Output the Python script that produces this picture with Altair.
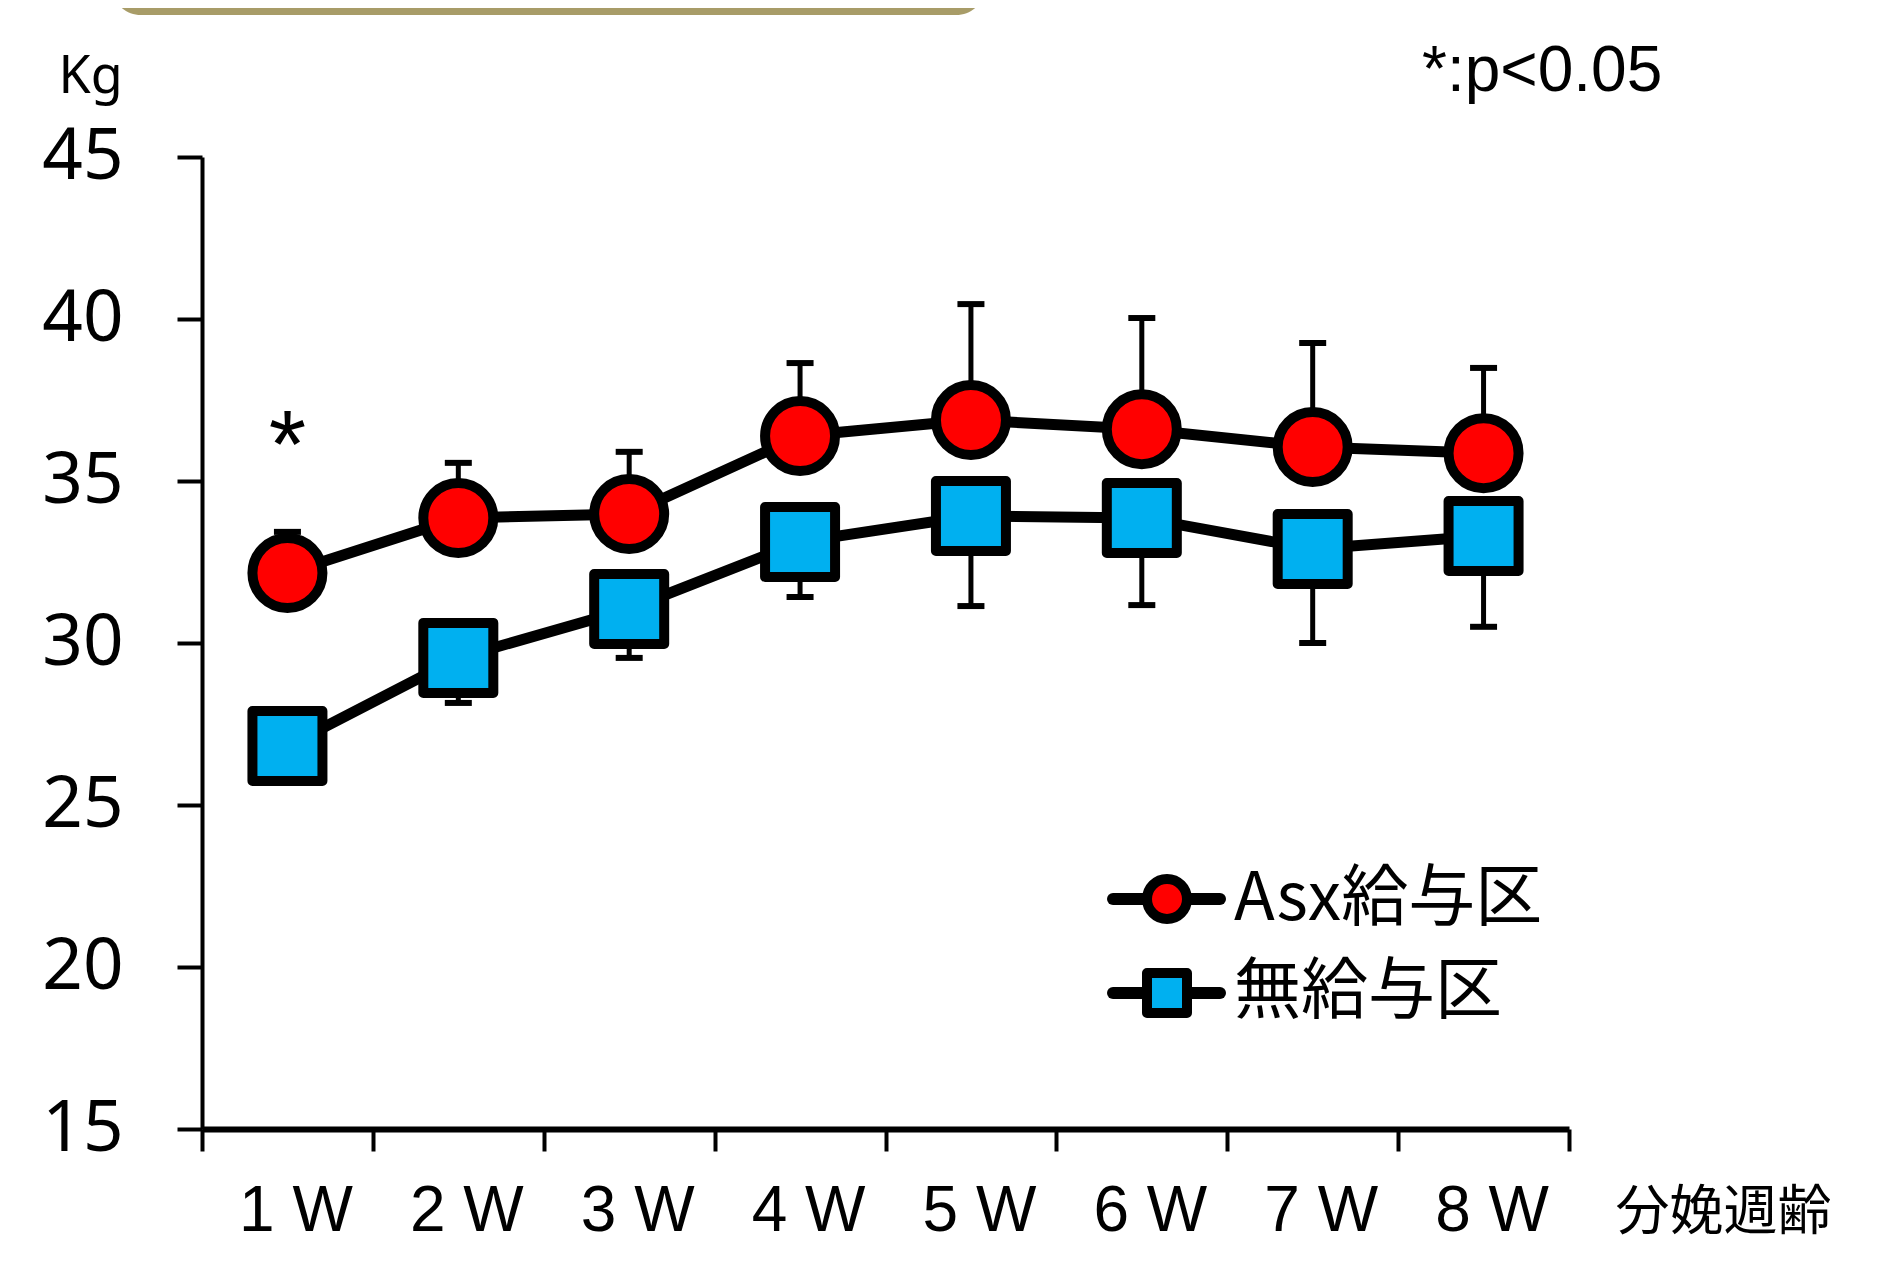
import altair as alt
import pandas as pd

weeks = ["1 W", "2 W", "3 W", "4 W", "5 W", "6 W", "7 W", "8 W"]
asx_mean = [32.16, 33.86, 33.98, 36.39, 36.88, 36.60, 36.05, 35.86]
asx_upper = [33.43, 35.56, 35.90, 38.64, 40.46, 40.03, 39.26, 38.49]
non_mean = [26.82, 29.54, 31.05, 33.12, 33.92, 33.86, 32.90, 33.30]
non_lower = [26.00, 28.15, 29.54, 31.42, 31.14, 31.17, 30.00, 30.50]
series_names = ["Asx給与区", "無給与区"]
fill_colors = ["#FF0000", "#00B0F0"]
shapes = ["circle", "square"]
sig_weeks = ["1 W"]
sig_marks = ["*"]
sig_y = [36.55]
note_text = ["*:p<0.05"]
y_ticks = [15, 20, 25, 30, 35, 40, 45]

W, H = 1367, 972

rows = []
for i, w in enumerate(weeks):
    rows.append({"week": w, "series": series_names[0], "mean": asx_mean[i], "bar": asx_upper[i]})
    rows.append({"week": w, "series": series_names[1], "mean": non_mean[i], "bar": non_lower[i]})
df = pd.DataFrame(rows)
sig_df = pd.DataFrame({"week": sig_weeks, "mark": sig_marks, "y": sig_y})
note_df = pd.DataFrame({"label": note_text})
legend_df = pd.DataFrame({"series": series_names, "fill": fill_colors, "shape": shapes})
one_df = pd.DataFrame({"k": [1]})

x_axis = alt.Axis(
    title="分娩週齢", labelAngle=0, tickBand="extent", grid=False,
    domainWidth=6, tickWidth=4, tickSize=22, domainColor="black", tickColor="black",
    labelFont="Liberation Sans", labelFontSize=64, labelColor="black", labelPadding=28,
    labelOffset=8,
    titleFont="Noto Sans CJK JP", titleFontSize=54, titleFontWeight="normal", titleColor="black",
    titleX=1413, titleY=100, titleAlign="left", titleBaseline="alphabetic", titleAngle=0,
)
y_axis = alt.Axis(
    title="Kg", values=y_ticks, grid=False,
    domainWidth=4, tickWidth=4, tickSize=25, domainColor="black", tickColor="black",
    labelFont="Noto Sans", labelFontSize=71, labelColor="black", labelPadding=54,
    titleFont="Noto Sans", titleFontSize=52, titleFontWeight="normal", titleColor="black",
    titleAngle=0, titleX=-144, titleY=-65, titleAlign="left", titleBaseline="alphabetic",
)
x_scale = alt.Scale(type="band", paddingInner=0, paddingOuter=0)
y_scale = alt.Scale(domain=[15, 45], nice=False, zero=False)


def X():
    return alt.X("week:N", sort=weeks, scale=x_scale, axis=x_axis, bandPosition=0.5)


base = alt.Chart(df)

bars = base.mark_rule(color="black", strokeWidth=5).encode(
    x=X(), y=alt.Y("mean:Q", scale=y_scale, axis=y_axis), y2="bar:Q"
)
caps = base.mark_tick(color="black", size=27, thickness=6, orient="horizontal", opacity=1).encode(
    x=X(), y=alt.Y("bar:Q", scale=y_scale, axis=y_axis)
)
lines = base.mark_line(color="black", strokeWidth=11).encode(
    x=X(), y=alt.Y("mean:Q", scale=y_scale, axis=y_axis), detail="series:N"
)
points = base.mark_point(filled=True, opacity=1, stroke="black", strokeWidth=10, size=4900, strokeJoin="round").encode(
    x=X(), y=alt.Y("mean:Q", scale=y_scale, axis=y_axis),
    fill=alt.Fill("series:N", scale=alt.Scale(domain=series_names, range=fill_colors), legend=None),
    shape=alt.Shape("series:N", scale=alt.Scale(domain=series_names, range=shapes), legend=None),
)
sig = alt.Chart(sig_df).mark_text(font="Liberation Sans", fontSize=96, color="black", baseline="middle", dy=17).encode(
    x=X(), y=alt.Y("y:Q", scale=y_scale, axis=y_axis), text="mark:N"
)
note = alt.Chart(note_df).mark_text(font="Liberation Sans", fontSize=64, color="black", align="left", baseline="alphabetic").encode(
    x=alt.value(1220), y=alt.value(-66), text="label:N"
)
banner = alt.Chart(one_df).mark_rect(color="#A89C68", cornerRadius=30).encode(
    x=alt.value(-91), x2=alt.value(784), y=alt.value(-230), y2=alt.value(-142)
)

legend_layers = []
leg_line_y = [742, 836]
leg_text_y = [763, 856]
for i, name in enumerate(series_names):
    ld = alt.Chart(legend_df).transform_filter(alt.datum.series == name)
    legend_layers.append(
        ld.mark_rule(color="black", strokeWidth=12, strokeCap="round").encode(
            x=alt.value(911), x2=alt.value(1018), y=alt.value(leg_line_y[i])
        )
    )
    legend_layers.append(
        ld.mark_point(filled=True, opacity=1, stroke="black", strokeWidth=10, size=1600,
                      shape=shapes[i], strokeJoin="round").encode(
            x=alt.value(965), y=alt.value(leg_line_y[i]), fill=alt.value(fill_colors[i])
        )
    )
    legend_layers.append(
        ld.mark_text(font="Noto Sans CJK JP", fontSize=67, color="black", align="left", baseline="alphabetic").encode(
            x=alt.value(1032), y=alt.value(leg_text_y[i]), text="series:N"
        )
    )

chart = alt.layer(banner, bars, caps, lines, points, sig, note, *legend_layers).properties(
    width=W, height=H,
    autosize=alt.AutoSizeParams(type="none"),
    padding={"left": 194, "top": 149, "right": 300, "bottom": 119},
).configure_view(stroke=None)

chart.save("out.html", embed_options={"renderer": "svg", "actions": False})
